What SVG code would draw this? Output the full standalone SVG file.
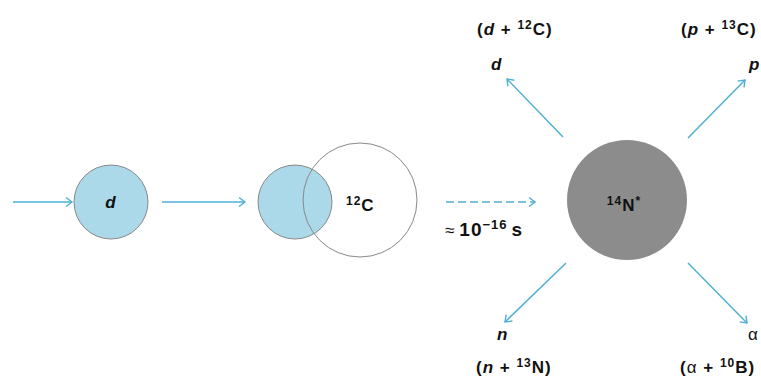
<svg xmlns="http://www.w3.org/2000/svg" width="761" height="385" viewBox="0 0 761 385">
<defs>
<marker id="ah" markerWidth="12" markerHeight="12" refX="9" refY="6" orient="auto" markerUnits="userSpaceOnUse">
<path d="M3,1.5 L9,6 L3,10.5" fill="none" stroke="#4fb0d4" stroke-width="1.4"/>
</marker>
<style>
.arr{stroke:#4fb0d4;stroke-width:1.5;fill:none;marker-end:url(#ah)}
.t{font-family:"Liberation Sans",Arial,sans-serif;font-weight:bold;font-size:17px;fill:#111;letter-spacing:1px}
.i{font-style:italic}
.sup{font-size:12px}
.n{font-weight:normal}
</style>
</defs>
<rect width="761" height="385" fill="#fff"/>
<g id="connectors">
<line class="arr" x1="13" y1="202" x2="72" y2="202"/>
<line class="arr" x1="162" y1="202" x2="245" y2="202"/>
<line class="arr" x1="446" y1="202" x2="535" y2="202" stroke-dasharray="8,4"/>
<line class="arr" x1="563" y1="137" x2="507" y2="79"/>
<line class="arr" x1="688" y1="138" x2="745" y2="80"/>
<line class="arr" x1="566" y1="263" x2="505" y2="322"/>
<line class="arr" x1="688" y1="263" x2="747" y2="323"/>
</g>
<g id="deuteron">
<circle cx="111" cy="202" r="37" fill="#abd9e9" stroke="#888" stroke-width="1"/>
<text class="t i" x="111" y="208" text-anchor="middle">d</text>
</g>
<g id="collision">
<circle cx="295" cy="202" r="37" fill="#abd9e9" stroke="#888" stroke-width="1"/>
<circle cx="360" cy="200" r="57" fill="none" stroke="#888" stroke-width="1"/>
<text class="t" x="346" y="211"><tspan class="sup" dy="-6">12</tspan><tspan dy="6">C</tspan></text>
</g>
<g id="time-label">
<text class="t" x="445" y="236" style="font-size:19px"><tspan class="n" style="font-size:17px">≈</tspan><tspan dx="4">10</tspan><tspan class="sup" style="font-size:13px" dy="-7">−16</tspan><tspan dy="7" dx="4">s</tspan></text>
</g>
<g id="compound">
<circle cx="627" cy="200" r="60" fill="#8c8c8c"/>
<text class="t" x="624" y="211" text-anchor="middle"><tspan class="sup" dy="-6">14</tspan><tspan dy="6">N</tspan><tspan class="sup" dy="-6">*</tspan></text>
</g>
<g id="out-d">
<text class="t i" x="491" y="70">d</text>
<text class="t" x="477" y="35">(<tspan class="i">d</tspan> + <tspan class="sup" dy="-6">12</tspan><tspan dy="6">C)</tspan></text>
</g>
<g id="out-p">
<text class="t i" x="749" y="70">p</text>
<text class="t" x="681" y="35">(<tspan class="i">p</tspan> + <tspan class="sup" dy="-6">13</tspan><tspan dy="6">C)</tspan></text>
</g>
<g id="out-n">
<text class="t i" x="497" y="340">n</text>
<text class="t" x="476" y="373">(<tspan class="i">n</tspan> + <tspan class="sup" dy="-6">13</tspan><tspan dy="6">N)</tspan></text>
</g>
<g id="out-alpha">
<text class="t n" x="748" y="340">α</text>
<text class="t" x="680" y="373">(<tspan class="n">α</tspan> + <tspan class="sup" dy="-6">10</tspan><tspan dy="6">B)</tspan></text>
</g>
</svg>
